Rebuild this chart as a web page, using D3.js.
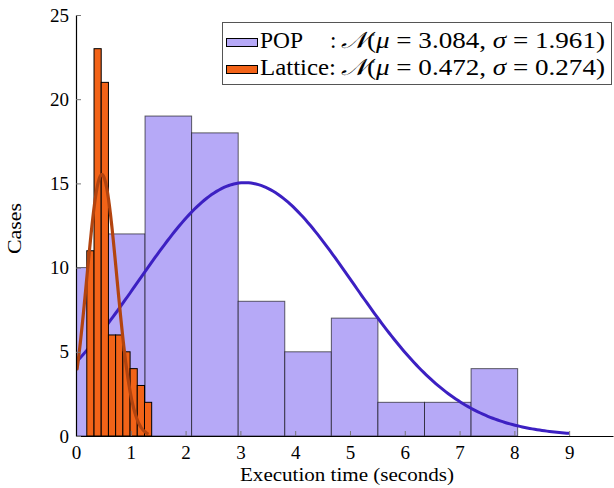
<!DOCTYPE html>
<html>
<head>
<meta charset="utf-8">
<script src="https://cdn.jsdelivr.net/npm/d3@7"></script>
<style>
  html, body { margin: 0; padding: 0; background: #fff; }
  svg { display: block; }
  text { font-family: "Liberation Serif", "DejaVu Serif", serif; fill: #000; }
</style>
</head>
<body>
<svg id="chart" width="614" height="488"></svg>
<script>
// ---- data ----
const popEdges = [0, 0.41, 1.26, 2.11, 2.96, 3.81, 4.66, 5.51, 6.36, 7.21, 8.06];
const popCounts = [10, 12, 19, 18, 8, 5, 7, 2, 2, 4];
const latticeEdges = [0.197, 0.329, 0.46, 0.592, 0.723, 0.855, 0.987, 1.118, 1.25, 1.381];
const latticeCounts = [11, 23, 21, 6, 6, 5, 4, 3, 2];
const popFit = { mu: 3.084, sigma: 1.961, binWidth: 0.85, from: 0, to: 9 };
const latticeFit = { mu: 0.472, sigma: 0.274, binWidth: 0.1316, from: 0.02, to: 1.3 };
const xTicks = [0, 1, 2, 3, 4, 5, 6, 7, 8, 9];
const yTicks = [0, 5, 10, 15, 20, 25];
const seriesNames = ["POP", "Lattice"];
const legendMath = [["3.084", "1.961"], ["0.472", "0.274"]];

// ---- layout ----
const svg = d3.select("#chart");
const L = 76, R = 613, T = 15, B = 436;
const x = d3.scaleLinear().domain([0, 9.8]).range([L, R]);
const y = d3.scaleLinear().domain([0, 25]).range([B, T]);

const colors = {
  popFill: "#b6a9f7", popLine: "#3c20c2",
  latFill: "#f26318", latLine: "#b3440f"
};

svg.append("defs").append("clipPath").attr("id", "clip")
  .append("rect").attr("x", L).attr("y", 0).attr("width", R - L).attr("height", B);

const plot = svg.append("g").attr("clip-path", "url(#clip)");

function bins(edges, counts) {
  return counts.map((c, i) => ({ x0: edges[i], x1: edges[i + 1], c }));
}

// POP bars
plot.append("g").selectAll("rect").data(bins(popEdges, popCounts)).join("rect")
  .attr("x", d => x(d.x0)).attr("width", d => x(d.x1) - x(d.x0))
  .attr("y", d => y(d.c)).attr("height", d => y(0) - y(d.c))
  .attr("fill", colors.popFill).attr("stroke", "#000").attr("stroke-opacity", 0.6)
  .attr("stroke-width", 1);

function normalCurve(fit, counts) {
  const n = d3.sum(counts);
  const k = n * fit.binWidth / (fit.sigma * Math.sqrt(2 * Math.PI));
  return d3.range(0, 201).map(i => {
    const xv = fit.from + (fit.to - fit.from) * i / 200;
    return [xv, k * Math.exp(-((xv - fit.mu) ** 2) / (2 * fit.sigma ** 2))];
  });
}
const line = d3.line().x(d => x(d[0])).y(d => y(d[1]));

// POP curve
plot.append("path").datum(normalCurve(popFit, popCounts))
  .attr("d", line).attr("fill", "none").attr("stroke", colors.popLine)
  .attr("stroke-width", 3);

// Lattice bars
plot.append("g").selectAll("rect").data(bins(latticeEdges, latticeCounts)).join("rect")
  .attr("x", d => x(d.x0)).attr("width", d => x(d.x1) - x(d.x0))
  .attr("y", d => y(d.c)).attr("height", d => y(0) - y(d.c))
  .attr("fill", colors.latFill).attr("stroke", "#000").attr("stroke-width", 1);

// Lattice curve
plot.append("path").datum(normalCurve(latticeFit, latticeCounts))
  .attr("d", line).attr("fill", "none").attr("stroke", colors.latLine)
  .attr("stroke-width", 3.2).attr("stroke-linecap", "round");

// ---- axes ----
const xAxis = svg.append("g").attr("transform", `translate(0,${B})`)
  .call(d3.axisBottom(x).tickValues(xTicks).tickFormat(d3.format("d")).tickSizeInner(-5).tickSizeOuter(0).tickPadding(10));
const yAxis = svg.append("g").attr("transform", `translate(${L},0)`)
  .call(d3.axisLeft(y).tickValues(yTicks).tickFormat(d3.format("d")).tickSizeInner(-5).tickSizeOuter(0).tickPadding(7));
[xAxis, yAxis].forEach(a => {
  a.select(".domain").attr("stroke", "#000").attr("stroke-width", 1.2);
  a.selectAll(".tick line").attr("stroke", "#777").attr("stroke-width", 1);
  a.selectAll(".tick text").attr("font-family", "Liberation Serif, serif").attr("font-size", 19).attr("fill", "#000");
});
xAxis.selectAll(".tick text").attr("dy", "0.71em");

svg.append("text").attr("x", 347).attr("y", 481).attr("text-anchor", "middle")
  .attr("font-size", 19.5).attr("textLength", 214).attr("lengthAdjust", "spacingAndGlyphs")
  .text("Execution time (seconds)");
svg.append("text").attr("transform", `translate(21,${(T + B) / 2 + 3}) rotate(-90)`)
  .attr("text-anchor", "middle").attr("font-size", 19.5).attr("textLength", 51).attr("lengthAdjust", "spacingAndGlyphs")
  .text("Cases");

// ---- legend ----
const lg = svg.append("g");
lg.append("rect").attr("x", 222.5).attr("y", 22.5).attr("width", 389).attr("height", 62)
  .attr("fill", "#fff").attr("stroke", "#555").attr("stroke-width", 1);
const fills = [colors.popFill, colors.latFill];
const rowsY = [48, 75];
seriesNames.forEach((name, i) => {
  lg.append("rect").attr("x", 226.5).attr("y", rowsY[i] - 9.5).attr("width", 31).attr("height", 8)
    .attr("fill", fills[i]).attr("stroke", "#000").attr("stroke-width", 1);
  lg.append("text").attr("x", 260).attr("y", rowsY[i]).attr("font-size", 23)
    .attr("textLength", i === 0 ? 43 : 76).attr("lengthAdjust", "spacingAndGlyphs")
    .text(i === 0 ? name : name + ":");
  if (i === 0) lg.append("text").attr("x", 330).attr("y", rowsY[i]).attr("font-size", 23).text(":");
  const t = lg.append("text").attr("x", 341).attr("y", rowsY[i]).attr("font-size", 23)
    .attr("textLength", 264).attr("lengthAdjust", "spacingAndGlyphs");
  t.append("tspan").attr("font-family", "DejaVu Serif, DejaVu Sans, serif").attr("font-style", "italic").text("\u{1D4A9}");
  t.append("tspan").text("(");
  t.append("tspan").attr("font-style", "italic").text("μ");
  t.append("tspan").text(" = " + legendMath[i][0] + ", ");
  t.append("tspan").attr("font-style", "italic").text("σ");
  t.append("tspan").text(" = " + legendMath[i][1] + ")");
});
</script>
</body>
</html>
